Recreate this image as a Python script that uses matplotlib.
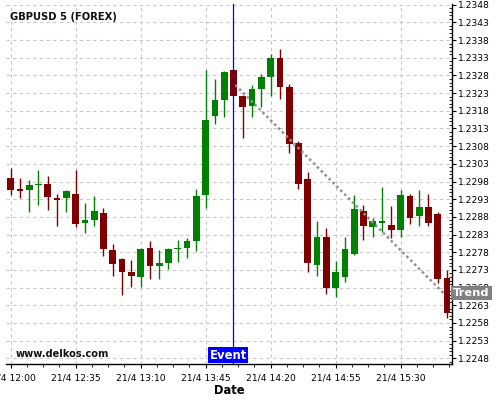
import matplotlib
matplotlib.use("Agg")
import matplotlib.pyplot as plt
from matplotlib.ticker import FixedLocator, MultipleLocator
import numpy as np

# Candle data (5-minute candles starting 21/4 12:00)
opens = [1.22991, 1.22957, 1.22955, 1.22969, 1.22974, 1.22932, 1.22933, 1.22946,
         1.22864, 1.22870, 1.22892, 1.22785, 1.22762, 1.22723, 1.22711, 1.22793,
         1.22740, 1.22751, 1.22788, 1.22793, 1.22811, 1.22942, 1.23165, 1.23210,
         1.23295, 1.23222, 1.23194, 1.23242, 1.23276, 1.23329, 1.23247, 1.23089,
         1.22986, 1.22745, 1.22822, 1.22678, 1.22711, 1.22774, 1.22898, 1.22851,
         1.22864, 1.22856, 1.22844, 1.22940, 1.22882, 1.22909, 1.22887, 1.22708]
highs = [1.23019, 1.22990, 1.22983, 1.23013, 1.22996, 1.22945, 1.22955, 1.23013,
         1.22920, 1.22938, 1.22906, 1.22804, 1.22764, 1.22758, 1.22792, 1.22813,
         1.22785, 1.22792, 1.22815, 1.22819, 1.22959, 1.23294, 1.23270, 1.23292,
         1.23297, 1.23224, 1.23253, 1.23283, 1.23342, 1.23354, 1.23255, 1.23096,
         1.23007, 1.22869, 1.22849, 1.22754, 1.22823, 1.22942, 1.22914, 1.22877,
         1.22965, 1.22911, 1.22955, 1.22946, 1.22956, 1.22945, 1.22895, 1.22730]
lows = [1.22943, 1.22934, 1.22893, 1.22914, 1.22899, 1.22855, 1.22893, 1.22852,
        1.22835, 1.22854, 1.22769, 1.22712, 1.22658, 1.22681, 1.22681, 1.22705,
        1.22705, 1.22733, 1.22753, 1.22764, 1.22784, 1.22906, 1.23144, 1.23163,
        1.23222, 1.23102, 1.23163, 1.23192, 1.23223, 1.23212, 1.23061, 1.22958,
        1.22724, 1.22712, 1.22661, 1.22653, 1.22695, 1.22771, 1.22815, 1.22823,
        1.22837, 1.22821, 1.22823, 1.22860, 1.22855, 1.22855, 1.22692, 1.22594]
closes = [1.22957, 1.22955, 1.22969, 1.22974, 1.22936, 1.22927, 1.22952, 1.22861,
          1.22870, 1.22898, 1.22788, 1.22746, 1.22724, 1.22714, 1.22790, 1.22742,
          1.22751, 1.22788, 1.22793, 1.22813, 1.22940, 1.23154, 1.23210, 1.23289,
          1.23222, 1.23191, 1.23241, 1.23275, 1.23329, 1.23248, 1.23087, 1.22972,
          1.22749, 1.22822, 1.22678, 1.22725, 1.22788, 1.22901, 1.22853, 1.22867,
          1.22867, 1.22844, 1.22943, 1.22878, 1.22909, 1.22864, 1.22703, 1.22609]

x_tick_pos = [0, 7, 14, 21, 28, 35, 42]
x_tick_labels = ["21/4 12:00", "21/4 12:35", "21/4 13:10", "21/4 13:45",
                 "21/4 14:20", "21/4 14:55", "21/4 15:30"]
y_ticks = [1.2248, 1.2253, 1.2258, 1.2263, 1.2268, 1.2273, 1.2278, 1.2283,
           1.2288, 1.2293, 1.2298, 1.2303, 1.2308, 1.2313, 1.2318, 1.2323,
           1.2328, 1.2333, 1.2338, 1.2343, 1.2348]

event_idx = 24
trend_x = [24.2, 46.6]
trend_y = [1.23253, 1.22665]

fig = plt.figure(figsize=(5, 4), dpi=100)
ax = fig.add_axes([0.012, 0.09, 0.8914, 0.90])

GREEN = "#008000"
RED = "#800000"
o = np.array(opens); c = np.array(closes); h = np.array(highs); l = np.array(lows)
x = np.arange(len(o))
cols = [GREEN if cc >= oo else RED for oo, cc in zip(o, c)]
ax.vlines(x, l, h, colors=cols, linewidth=1.0, zorder=3)
body_h = np.maximum(np.abs(c - o), 0.00004)
body_b = np.minimum(o, c) - (body_h - np.abs(c - o)) / 2
ax.bar(x, body_h, bottom=body_b, width=0.72, color=cols, linewidth=0, zorder=4)

# Grid
for yt in y_ticks:
    ax.axhline(yt, color="#c8c8c8", lw=0.8, ls=(0, (3, 3)), zorder=1)
for xt in x_tick_pos:
    ax.axvline(xt, color="#c8c8c8", lw=0.8, ls=(0, (3, 3)), zorder=1)

# Trend line
ax.plot(trend_x, trend_y, color="#909090", lw=1.8, ls=(0, (1, 1.2)), zorder=5)

# Event line
ax.axvline(event_idx, color="#0000ff", lw=0.9, zorder=6)

ax.set_xlim(-0.5, 47.5)
ax.set_ylim(1.22464, 1.23482)

ax.yaxis.tick_right()
ax.set_yticks(y_ticks)
ax.set_yticklabels([f"{v:.4f}" for v in y_ticks])
ax.yaxis.set_minor_locator(MultipleLocator(0.0001))
ax.tick_params(axis="y", which="major", direction="out", length=3, width=0.8,
               pad=1.5, labelsize=6.6, colors="black")
ax.tick_params(axis="y", which="minor", direction="in", length=2, width=0.6)

ax.set_xticks(x_tick_pos)
ax.set_xticklabels(x_tick_labels)
ax.xaxis.set_minor_locator(FixedLocator(np.arange(0, 47.6, 1.75)))
ax.tick_params(axis="x", which="major", direction="out", length=3, width=0.8,
               pad=4, labelsize=6.6)
ax.tick_params(axis="x", which="minor", direction="out", length=2.5, width=0.6)

for s in ["left", "top"]:
    ax.spines[s].set_visible(False)
for s in ["right", "bottom"]:
    ax.spines[s].set_linewidth(1.0)
    ax.spines[s].set_color("black")

ax.set_xlabel("Date", fontsize=8.3, fontweight="bold", labelpad=1)

ax.text(0.0095, 0.965, "GBPUSD 5 (FOREX)", transform=ax.transAxes,
        fontsize=7.2, fontweight="bold", ha="left", va="center", color="#111111")
ax.text(0.021, 0.027, "www.delkos.com", transform=ax.transAxes,
        fontsize=7.1, fontweight="bold", ha="left", va="center", color="#111111")

ax.annotate("Event", xy=(event_idx - 0.55, 0.006), xycoords=("data", "axes fraction"),
            ha="center", va="bottom", fontsize=8.4, fontweight="bold", color="white",
            bbox=dict(boxstyle="square,pad=0.12", fc="#0000ff", ec="none"),
            zorder=10, annotation_clip=False)

ax.annotate("Trend", xy=(1.003, trend_y[-1]), xycoords=("axes fraction", "data"),
            ha="left", va="center", fontsize=8.2, fontweight="bold", color="white",
            bbox=dict(boxstyle="square,pad=0.2", fc="#808080", ec="none"),
            zorder=10, annotation_clip=False)

fig.savefig("out.png", dpi=100)
